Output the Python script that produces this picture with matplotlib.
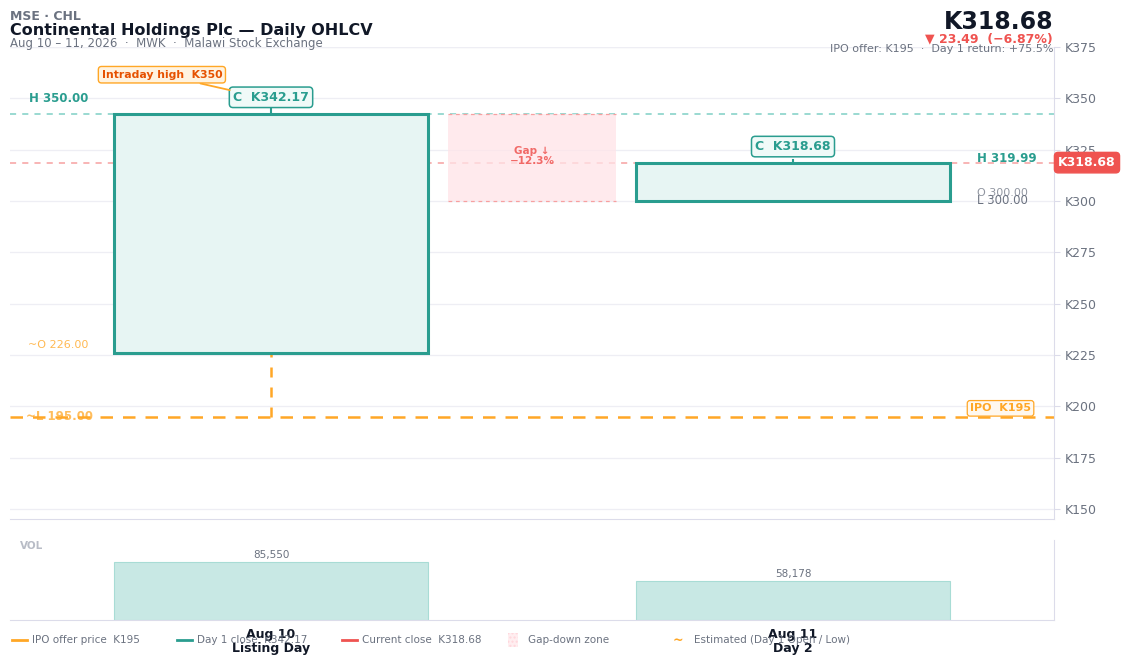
import matplotlib.pyplot as plt
from matplotlib.lines import Line2D
from matplotlib.patches import Rectangle

# data
days = ["Aug 10\nListing Day", "Aug 11\nDay 2"]
opens = [226.00, 300.00]
highs = [350.00, 319.99]
lows = [195.00, 300.00]
closes = [342.17, 318.68]
volumes = [85550, 58178]
ipo_price = 195
yticks = [150, 175, 200, 225, 250, 275, 300, 325, 350, 375]

TEAL = "#2a9d8f"
TEAL_FILL = "#e7f5f3"
RED = "#ef5350"
ORANGE = "#ffa726"
DARK_OR = "#e65100"
GRAY = "#6b7280"
DARK = "#111827"
GRID = "#eeeef4"
SPINE = "#dcdcea"

plt.rcParams['font.family'] = ['DejaVu Sans']

fig = plt.figure(figsize=(11.24, 6.64), dpi=100)
W, H = 1124, 664
ax = fig.add_axes([10 / W, 1 - 519 / H, 1044 / W, 472 / H])
axv = fig.add_axes([10 / W, 1 - 620 / H, 1044 / W, 80 / H], sharex=ax)

ax.set_xlim(-0.5, 1.5)
ax.set_ylim(145.1, 375)
ax.set_yticks(yticks)
ax.set_yticklabels([f"K{v}" for v in yticks])
ax.yaxis.tick_right()
ax.tick_params(axis='y', colors=GRAY, labelsize=9, length=4, color=SPINE, pad=4)
ax.tick_params(axis='x', bottom=False, labelbottom=False)
ax.grid(axis='y', color=GRID, lw=0.9)
ax.set_axisbelow(True)
for s in ['top', 'left']:
    ax.spines[s].set_visible(False)
for s in ['right', 'bottom']:
    ax.spines[s].set_color(SPINE)
ax.axhline(375, color=GRID, lw=0.9)

bw = 0.6
# reference lines
ax.axhline(closes[0], color="#7fcfc5", ls=(0, (4, 4)), lw=1.1, zorder=1)
ax.axhline(closes[1], color="#f7a0a0", ls=(0, (4, 4)), lw=1.1, zorder=1)
ax.axhline(ipo_price, color=ORANGE, ls=(0, (5, 4)), lw=1.8, zorder=1)

# gap zone
ax.add_patch(Rectangle((0.34, lows[1]), 0.32, closes[0] - lows[1], facecolor="#ffe4e8",
                       alpha=0.75, edgecolor='none', zorder=1))
ax.plot([0.34, 0.66], [lows[1], lows[1]], color="#f7a0a0", ls=(0, (3, 3)), lw=0.9, zorder=2)
ax.plot([0.34, 0.66], [closes[0], closes[0]], color="#f7a0a0", ls=(0, (3, 3)), lw=0.9, zorder=2)
gap = (opens[1] - closes[0]) / closes[0] * 100
ax.text(0.5, (lows[1] + closes[0]) / 2 + 1, f"Gap ↓\n−{abs(gap):.1f}%", color=RED, alpha=0.85,
        fontsize=7.5, fontweight='bold', ha='center', va='center', linespacing=1.0, zorder=3)

# candles
for i in range(2):
    lo, hi = min(opens[i], closes[i]), max(opens[i], closes[i])
    ax.add_patch(Rectangle((i - bw / 2, lo), bw, hi - lo, facecolor=TEAL_FILL, edgecolor=TEAL,
                           lw=2.2, zorder=4))
ax.plot([0, 0], [lows[0], opens[0]], color=ORANGE, ls=(0, (4, 4)), lw=1.8, zorder=3)
ax.plot([0, 0], [closes[0], 347], color=TEAL, lw=1.5, zorder=3)
ax.plot([1, 1], [closes[1], highs[1]], color=TEAL, lw=1.5, zorder=3)

# value labels
ax.text(-0.463, highs[0], f"H {highs[0]:.2f}", color=TEAL, fontsize=8.5, fontweight='bold',
        ha='left', va='center')
ax.text(-0.465, opens[0] + 4, f"~O {opens[0]:.2f}", color=ORANGE, alpha=0.8, fontsize=8,
        ha='left', va='center')
ax.text(-0.47, lows[0], f"~L {lows[0]:.2f}", color=ORANGE, alpha=0.75, fontsize=8.5,
        fontweight='bold', ha='left', va='center')
ax.text(1.352, highs[1] + 0.7, f"H {highs[1]:.2f}", color=TEAL, fontsize=8.5, fontweight='bold',
        ha='left', va='center')
ax.text(1.352, opens[1] + 4, f"O {opens[1]:.2f}", color=GRAY, alpha=0.75, fontsize=8,
        ha='left', va='center')
ax.text(1.352, lows[1] + 0.2, f"L {lows[1]:.2f}", color=GRAY, fontsize=8.5, ha='left', va='center')

# close boxes
for i, yy in [(0, 350.5), (1, 326.5)]:
    ax.text(i, yy, f"C  K{closes[i]:.2f}", color=TEAL, fontsize=9, fontweight='bold',
            ha='center', va='center', zorder=6,
            bbox=dict(boxstyle='round,pad=0.3', fc="#f0faf8", ec=TEAL, lw=1.1))
ax.annotate("Intraday high  K350", xy=(-0.079, 354), xytext=(-0.209, 361.5),
            color=DARK_OR, fontsize=7.8, fontweight='bold', ha='center', va='center', zorder=6,
            bbox=dict(boxstyle='round,pad=0.3', fc="#fff3e0", ec=ORANGE, lw=1),
            arrowprops=dict(arrowstyle='-', color=ORANGE, lw=1.3, shrinkA=0, shrinkB=0))
ax.text(1.456, ipo_price + 4, f"IPO  K{ipo_price}", color=ORANGE, fontsize=8, fontweight='bold',
        ha='right', va='center', zorder=6,
        bbox=dict(boxstyle='round,pad=0.25', fc="#fff8ee", ec=ORANGE, lw=0.9))
ax.text(1.004, closes[1], f"K{closes[1]:.2f}", transform=ax.get_yaxis_transform(), color='white',
        fontsize=9, fontweight='bold', ha='left', va='center', zorder=7,
        bbox=dict(boxstyle='round,pad=0.3', fc=RED, ec=RED))

# volume
axv.bar(range(2), volumes, width=bw, color="#c8e8e4", edgecolor="#a8dcd5", lw=0.8)
for i, v in enumerate(volumes):
    axv.text(i, v + 3000, f"{v:,}", color=GRAY, fontsize=7.5, ha='center', va='bottom')
axv.set_ylim(0, 118000)
axv.set_yticks([])
axv.set_xticks(range(2))
axv.set_xticklabels(days, fontsize=9, fontweight='bold', color=DARK, linespacing=1.1)
axv.tick_params(axis='x', length=0, pad=6)
for s in ['top', 'left']:
    axv.spines[s].set_visible(False)
for s in ['right', 'bottom']:
    axv.spines[s].set_color(SPINE)
axv.text(0.01, 0.92, "VOL", transform=axv.transAxes, color="#b8bcc6", fontsize=7.5,
         fontweight='bold', ha='left', va='center')

# header
fig.text(10 / W, 1 - 16 / H, "MSE · CHL", color=GRAY, fontsize=9, fontweight='bold', va='center')
fig.text(10 / W, 1 - 30 / H, "Continental Holdings Plc — Daily OHLCV", color=DARK, fontsize=11.5,
         fontweight='bold', va='center')
fig.text(10 / W, 1 - 44 / H, "Aug 10 – 11, 2026  ·  MWK  ·  Malawi Stock Exchange", color=GRAY,
         fontsize=8.5, va='center')
fig.text(1053 / W, 1 - 22 / H, f"K{closes[1]:.2f}", color=DARK, fontsize=17, fontweight='bold',
         ha='right', va='center')
chg = closes[1] - closes[0]
fig.text(1053 / W, 1 - 39 / H, f"▼ {abs(chg):.2f}  (−{abs(chg) / closes[0] * 100:.2f}%)", color=RED,
         fontsize=9, fontweight='bold', ha='right', va='center')
ret = (closes[0] - ipo_price) / ipo_price * 100
fig.text(1053 / W, 1 - 49 / H, f"IPO offer: K{ipo_price}  ·  Day 1 return: +{ret:.1f}%", color=GRAY,
         fontsize=8, ha='right', va='center')

# legend
ly = 1 - 640 / H
items = [(12, ORANGE, "IPO offer price  K195"), (177, TEAL, f"Day 1 close  K{closes[0]:.2f}"),
         (342, RED, f"Current close  K{closes[1]:.2f}")]
for x0, c, lab in items:
    fig.add_artist(Line2D([x0 / W, (x0 + 15) / W], [ly, ly], color=c, lw=2))
    fig.text((x0 + 20) / W, ly, lab, color=GRAY, fontsize=7.5, va='center')
fig.add_artist(Rectangle((508 / W, ly - 7 / H), 10 / W, 14 / H, facecolor="#ffeef0",
                         edgecolor="#ffd6dc", hatch='....', lw=0, transform=fig.transFigure))
fig.text(528 / W, ly, "Gap-down zone", color=GRAY, fontsize=7.5, va='center')
fig.text(673 / W, ly, "~", color=ORANGE, fontsize=9, fontweight='bold', va='center')
fig.text(694 / W, ly, "Estimated (Day 1 Open / Low)", color=GRAY, fontsize=7.5, va='center')

plt.savefig("out.png", dpi=100)
